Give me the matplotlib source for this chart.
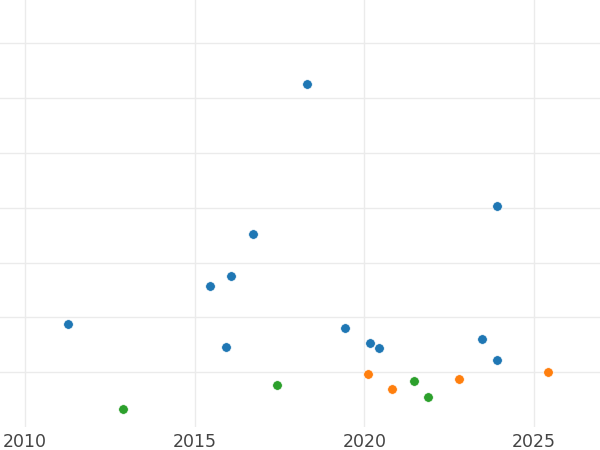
import matplotlib
matplotlib.use("Agg")
import matplotlib.pyplot as plt

# ---------------------------
# Data
# ---------------------------

blue_x = [2011.26, 2015.44, 2016.08, 2016.71, 2018.32, 2015.91,
          2019.43, 2020.16, 2020.43, 2023.45, 2023.91, 2023.90]
blue_y = [18.8, 25.8, 27.6, 35.2, 62.5, 14.6,
          18.0, 15.4, 14.4, 16.0, 12.2, 40.4]

orange_x = [2020.11, 2020.81, 2022.80, 2025.41]
orange_y = [9.7, 6.9, 8.8, 10.0]

green_x = [2012.90, 2017.42, 2021.46, 2021.88]
green_y = [3.3, 7.7, 8.4, 5.4]

x_ticks = [2010, 2015, 2020, 2025]
y_grid = [10, 20, 30, 40, 50, 60, 70]

# ---------------------------
# Plot
# ---------------------------

fig = plt.figure(figsize=(6, 4.5), dpi=100)
ax = fig.add_axes([0, 0.0511, 1, 0.9489])

for xs, ys, col in [(blue_x, blue_y, "#1f77b4"),
                    (orange_x, orange_y, "#ff7f0e"),
                    (green_x, green_y, "#2ca02c")]:
    ax.scatter(xs, ys, s=48, color=col, edgecolor="white", linewidth=0.5, zorder=3)

ax.set_xlim(2009.264, 2026.94)
ax.set_ylim(0, 77.9)
ax.set_xticks(x_ticks)
ax.set_xticklabels([str(t) for t in x_ticks])
ax.set_yticks(y_grid)
ax.set_yticklabels([])

ax.grid(True, color="#ebebeb", linewidth=1.0, zorder=0)
ax.set_axisbelow(True)
ax.tick_params(length=0, labelsize=12.5, labelcolor="#444444", pad=4.5)
for sp in ax.spines.values():
    sp.set_visible(False)

fig.savefig("out.png", dpi=100)
